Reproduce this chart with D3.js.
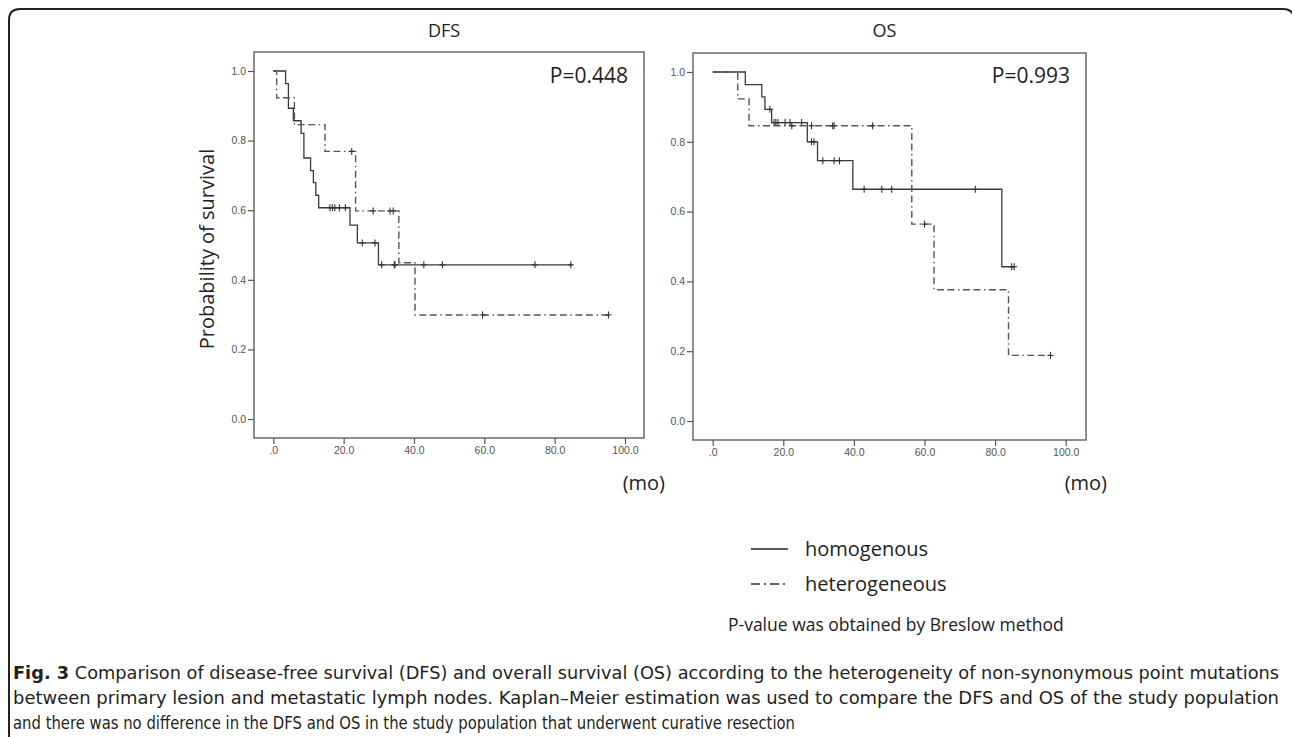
<!DOCTYPE html>
<html>
<head>
<meta charset="utf-8">
<script src="https://cdn.jsdelivr.net/npm/d3@7"></script>
<style>
  html, body { margin: 0; padding: 0; background: #fff; }
  svg { display: block; }
</style>
</head>
<body>
<svg id="chart" width="1292" height="737"></svg>
<script>
// ---------------- DATA ----------------
const xTickValues = [0, 20, 40, 60, 80, 100];
const xTickLabels = [".0", "20.0", "40.0", "60.0", "80.0", "100.0"];
const yTickValues = [0, 0.2, 0.4, 0.6, 0.8, 1.0];
const yTickLabels = ["0.0", "0.2", "0.4", "0.6", "0.8", "1.0"];
const seriesNames = ["homogenous", "heterogeneous"];
const panelTitles = ["DFS", "OS"];
const pValues = ["P=0.448", "P=0.993"];

// DFS homogenous
const dfsHomTimes = [0, 3.5, 4.3, 5.7, 7.9, 8.7, 10.6, 11.4, 12.1, 12.9, 21.8, 23.9, 29.9];
const dfsHomSurv  = [1.0, 0.964, 0.893, 0.857, 0.821, 0.750, 0.714, 0.679, 0.643, 0.607, 0.557, 0.506, 0.443];
const dfsHomEnd = 85.0;
const dfsHomCensor = [16.1, 16.8, 17.5, 18.8, 20.5, 25.3, 28.9, 30.8, 34.4, 34.6, 42.8, 48.1, 74.4, 84.6];

// DFS heterogeneous
const dfsHetTimes = [0, 0.95, 6.0, 14.7, 23.4, 35.7, 40.3];
const dfsHetSurv  = [1.0, 0.923, 0.846, 0.769, 0.598, 0.449, 0.299];
const dfsHetEnd = 95.3;
const dfsHetCensor = [22.3, 28.4, 33.2, 34.1, 59.5, 95.3];

// OS homogenous
const osHomTimes = [0, 9.25, 13.9, 14.8, 16.7, 26.8, 29.7, 39.7, 81.9];
const osHomSurv  = [1.0, 0.964, 0.929, 0.893, 0.855, 0.800, 0.746, 0.664, 0.442];
const osHomEnd = 85.6;
const osHomCensor = [16.2, 17.4, 17.9, 18.5, 20.5, 21.9, 25.2, 28.0, 28.7, 31.2, 34.4, 35.9, 42.9, 47.9, 50.7, 74.4, 84.7, 85.4];

// OS heterogeneous
const osHetTimes = [0, 7.1, 10.3, 56.4, 62.7, 83.8];
const osHetSurv  = [1.0, 0.923, 0.846, 0.564, 0.376, 0.188];
const osHetEnd = 95.7;
const osHetCensor = [22.4, 28.0, 34.0, 34.4, 45.3, 60.0, 95.7];

const captionLines = [
  ["Fig. 3", " Comparison of disease-free survival (DFS) and overall survival (OS) according to the heterogeneity of non-synonymous point mutations"],
  ["", "between primary lesion and metastatic lymph nodes. Kaplan\u2013Meier estimation was used to compare the DFS and OS of the study population"],
  ["", "and there was no difference in the DFS and OS in the study population that underwent curative resection"]
];

// ---------------- LAYOUT ----------------
const svg = d3.select("#chart");
svg.append("rect").attr("width", 1292).attr("height", 737).attr("fill", "#fff");

// outer rounded frame (right edge runs just past the canvas)
svg.append("path")
  .attr("d", "M9,740 L9,20 Q9,9 20,9 L1283,9 Q1294,9 1294,20 L1294,740")
  .attr("fill", "none").attr("stroke", "#222").attr("stroke-width", 2);

const FONT = "'Open Sans', 'Noto Sans', sans-serif";
const TICKFONT = "'Liberation Sans', Arial, sans-serif";

const panels = [
  {
    title: panelTitles[0], p: pValues[0],
    frame: {x0: 254, x1: 644, y0: 52, y1: 438},
    xr: [273.3, 625], yr: [419, 71],
    series: [
      {times: dfsHomTimes, surv: dfsHomSurv, end: dfsHomEnd, censor: dfsHomCensor, dashed: false},
      {times: dfsHetTimes, surv: dfsHetSurv, end: dfsHetEnd, censor: dfsHetCensor, dashed: true}
    ]
  },
  {
    title: panelTitles[1], p: pValues[1],
    frame: {x0: 693, x1: 1086, y0: 53, y1: 440},
    xr: [712.7, 1065.7], yr: [421, 72],
    series: [
      {times: osHomTimes, surv: osHomSurv, end: osHomEnd, censor: osHomCensor, dashed: false},
      {times: osHetTimes, surv: osHetSurv, end: osHetEnd, censor: osHetCensor, dashed: true}
    ]
  }
];

const DASH = "7,3.5,7,3.5,1.5,3.5";

panels.forEach((pn, i) => {
  const x = d3.scaleLinear().domain([0, 100]).range(pn.xr);
  const y = d3.scaleLinear().domain([0, 1]).range(pn.yr);
  const g = svg.append("g");
  const f = pn.frame;

  // frame
  g.append("rect")
    .attr("x", f.x0).attr("y", f.y0)
    .attr("width", f.x1 - f.x0).attr("height", f.y1 - f.y0)
    .attr("fill", "none").attr("stroke", "#6a6a6a").attr("stroke-width", 1.5);

  // x axis
  const xAxis = d3.axisBottom(x).tickValues(xTickValues)
    .tickFormat((d, k) => xTickLabels[k]).tickSize(6).tickSizeOuter(0).tickPadding(3);
  const gx = g.append("g").attr("transform", `translate(0,${f.y1})`).call(xAxis);
  gx.select(".domain").remove();
  gx.selectAll(".tick line").attr("stroke", "#555").attr("stroke-width", 1.2);
  gx.selectAll(".tick text").attr("fill", "#555").attr("font-size", 10.5)
    .attr("font-family", TICKFONT);

  // y axis
  const yAxis = d3.axisLeft(y).tickValues(yTickValues)
    .tickFormat((d, k) => yTickLabels[k]).tickSize(6).tickSizeOuter(0).tickPadding(2);
  const gy = g.append("g").attr("transform", `translate(${f.x0},0)`).call(yAxis);
  gy.select(".domain").remove();
  gy.selectAll(".tick line").attr("stroke", "#555").attr("stroke-width", 1.2);
  gy.selectAll(".tick text").attr("fill", "#555").attr("font-size", 10.5)
    .attr("font-family", TICKFONT);

  // title
  g.append("text").attr("x", (f.x0 + f.x1) / 2 - 5).attr("y", 37)
    .attr("text-anchor", "middle").attr("font-family", FONT)
    .attr("font-size", 18).attr("fill", "#222").text(pn.title);

  // p-value
  g.append("text").attr("x", f.x1 - 16).attr("y", 83)
    .attr("text-anchor", "end").attr("font-family", FONT)
    .attr("font-size", 21).attr("fill", "#222").text(pn.p);

  // (mo)
  g.append("text").attr("x", f.x1 + 21).attr("y", 490)
    .attr("text-anchor", "end").attr("font-family", FONT)
    .attr("font-size", 20).attr("fill", "#222").text("(mo)");

  // curves
  pn.series.forEach(s => {
    const pts = s.times.map((t, k) => [t, s.surv[k]]);
    pts.push([s.end, s.surv[s.surv.length - 1]]);
    const line = d3.line().x(d => x(d[0])).y(d => y(d[1])).curve(d3.curveStepAfter);
    g.append("path").datum(pts).attr("d", line)
      .attr("fill", "none")
      .attr("stroke", s.dashed ? "#555" : "#3a3a3a")
      .attr("stroke-width", s.dashed ? 1.4 : 1.3)
      .attr("stroke-dasharray", s.dashed ? DASH : null);

    const survAt = t => {
      let v = s.surv[0];
      for (let k = 0; k < s.times.length; k++) if (s.times[k] <= t) v = s.surv[k];
      return v;
    };
    const cg = g.append("g").attr("stroke", "#333").attr("stroke-width", 1.1);
    s.censor.forEach(t => {
      const cx = x(t), cy = y(survAt(t));
      cg.append("line").attr("x1", cx).attr("x2", cx).attr("y1", cy - 3.5).attr("y2", cy + 3.5);
      cg.append("line").attr("x1", cx - 3).attr("x2", cx + 3).attr("y1", cy).attr("y2", cy);
    });
  });
});

// y-axis label
svg.append("text")
  .attr("transform", "translate(214,249) rotate(-90)")
  .attr("text-anchor", "middle").attr("font-family", FONT)
  .attr("font-size", 20).attr("fill", "#222").text("Probability of survival");

// legend
const legY = [549, 584];
legY.forEach((ly, k) => {
  svg.append("line").attr("x1", 751).attr("x2", 788).attr("y1", ly).attr("y2", ly)
    .attr("stroke", k === 0 ? "#222" : "#333").attr("stroke-width", 1.6)
    .attr("stroke-dasharray", k === 0 ? null : "9,4,2,4");
  svg.append("text").attr("x", 805).attr("y", ly + 7)
    .attr("font-family", FONT).attr("font-size", 20).attr("fill", "#222")
    .text(seriesNames[k]);
});
svg.append("text").attr("x", 728).attr("y", 631)
  .attr("font-family", FONT).attr("font-size", 17.5).attr("fill", "#222")
  .text("P-value was obtained by Breslow method");

// caption
const capY = [679, 704, 729];
const capLen = [1266, 1266, 782];
captionLines.forEach((ln, k) => {
  const t = svg.append("text").attr("x", 13).attr("y", capY[k])
    .attr("font-family", "'Liberation Sans Narrow', 'DejaVu Sans Condensed', 'DejaVu Sans', sans-serif")
    .style("font-stretch", "condensed")
    .attr("font-size", 18).attr("fill", "#231f20")
    .attr("textLength", capLen[k]).attr("lengthAdjust", "spacingAndGlyphs");
  if (ln[0]) t.append("tspan").attr("font-weight", "bold").text(ln[0]);
  t.append("tspan").text(ln[1]);
});
</script>
</body>
</html>
